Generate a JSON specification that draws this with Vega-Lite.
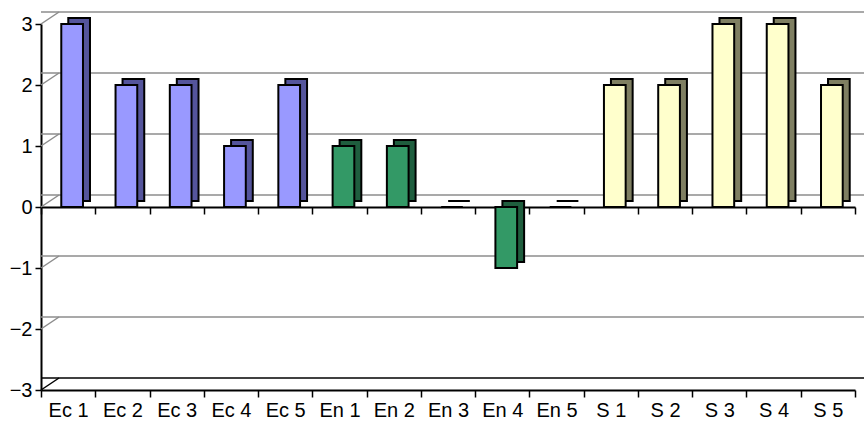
{
  "$schema": "https://vega.github.io/schema/vega-lite/v6.json",
  "width": 814,
  "height": 366,
  "autosize": {"type": "none"},
  "padding": {"left": 41, "top": 24, "right": 9, "bottom": 41},
  "background": "white",
  "config": {"view": {"stroke": null}, "font": "Liberation Sans"},
  "datasets": {
    "bars": [
      {"cat": "Ec 1", "group": "Ec", "v": 3},
      {"cat": "Ec 2", "group": "Ec", "v": 2},
      {"cat": "Ec 3", "group": "Ec", "v": 2},
      {"cat": "Ec 4", "group": "Ec", "v": 1},
      {"cat": "Ec 5", "group": "Ec", "v": 2},
      {"cat": "En 1", "group": "En", "v": 1},
      {"cat": "En 2", "group": "En", "v": 1},
      {"cat": "En 3", "group": "En", "v": 0},
      {"cat": "En 4", "group": "En", "v": -1},
      {"cat": "En 5", "group": "En", "v": 0},
      {"cat": "S 1", "group": "S", "v": 2},
      {"cat": "S 2", "group": "S", "v": 2},
      {"cat": "S 3", "group": "S", "v": 3},
      {"cat": "S 4", "group": "S", "v": 3},
      {"cat": "S 5", "group": "S", "v": 2}
    ],
    "grid": [{"v": -3}, {"v": -2}, {"v": -1}, {"v": 0}, {"v": 1}, {"v": 2}, {"v": 3}]
  },
  "resolve": {"scale": {"fill": "independent"}, "axis": {"x": "independent"}},
  "layer": [
    {
      "data": {"name": "grid"},
      "mark": {"type": "rule", "strokeWidth": 1.5, "xOffset": 18, "x2Offset": 9, "yOffset": -12},
      "encoding": {
        "y": {"field": "v", "type": "quantitative", "scale": {"domain": [-3, 3], "nice": false},
          "axis": {"title": null, "values": [-3, -2, -1, 0, 1, 2, 3], "grid": false, "labelFontSize": 20, "labelColor": "#000000", "labelPadding": 3, "tickSize": 6, "tickColor": "#000000", "tickWidth": 1.5, "domainColor": "#000000", "domainWidth": 2}},
        "color": {"condition": {"test": "datum.v === -3", "value": "#000000"}, "value": "#8c8c8c"}
      }
    },
    {
      "data": {"name": "grid"},
      "mark": {"type": "rule", "strokeWidth": 1.5, "xOffset": -27.13, "x2Offset": -9.13, "y2Offset": -12},
      "encoding": {
        "x": {"datum": "Ec 1", "type": "nominal", "scale": {"paddingInner": 0, "paddingOuter": 0}, "axis": null},
        "x2": {"datum": "Ec 1"},
        "y": {"field": "v", "type": "quantitative", "scale": {"domain": [-3, 3], "nice": false},
          "axis": {"title": null, "values": [-3, -2, -1, 0, 1, 2, 3], "grid": false, "labelFontSize": 20, "labelColor": "#000000", "labelPadding": 3, "tickSize": 6, "tickColor": "#000000", "tickWidth": 1.5, "domainColor": "#000000", "domainWidth": 2}},
        "y2": {"field": "v"},
        "color": {"condition": {"test": "datum.v === -3", "value": "#000000"}, "value": "#8c8c8c"}
      }
    },
    {
      "data": {"name": "bars"},
      "mark": {"type": "bar", "width": {"band": 0.4}, "stroke": "#000000", "strokeWidth": 2, "xOffset": 11, "x2Offset": 11, "yOffset": -6, "y2Offset": -6},
      "encoding": {
        "x": {"field": "cat", "type": "nominal", "sort": null, "scale": {"paddingInner": 0, "paddingOuter": 0},
          "axis": {"orient": "bottom", "offset": -183, "labels": false, "title": null, "tickBand": "extent", "tickSize": 7, "tickColor": "#000000", "tickWidth": 1.5, "domainColor": "#000000", "domainWidth": 2}},
        "y": {"field": "v", "type": "quantitative", "scale": {"domain": [-3, 3], "nice": false},
          "axis": {"title": null, "values": [-3, -2, -1, 0, 1, 2, 3], "grid": false, "labelFontSize": 20, "labelColor": "#000000", "labelPadding": 3, "tickSize": 6, "tickColor": "#000000", "tickWidth": 1.5, "domainColor": "#000000", "domainWidth": 2}},
        "fill": {"field": "group", "type": "nominal", "scale": {"domain": ["Ec", "En", "S"], "range": ["#55559c", "#1f5e3e", "#7f7f62"]}, "legend": null}
      }
    },
    {
      "data": {"name": "bars"},
      "mark": {"type": "bar", "width": {"band": 0.4}, "stroke": "#000000", "strokeWidth": 2, "xOffset": 4, "x2Offset": 4},
      "encoding": {
        "x": {"field": "cat", "type": "nominal", "sort": null, "scale": {"paddingInner": 0, "paddingOuter": 0},
          "axis": {"orient": "bottom", "title": null, "labelAngle": 0, "labelFontSize": 20, "labelColor": "#000000", "labelPadding": 3, "tickBand": "extent", "tickSize": 7, "tickColor": "#000000", "tickWidth": 1.5, "domainColor": "#000000", "domainWidth": 2}},
        "y": {"field": "v", "type": "quantitative", "scale": {"domain": [-3, 3], "nice": false},
          "axis": {"title": null, "values": [-3, -2, -1, 0, 1, 2, 3], "grid": false, "labelFontSize": 20, "labelColor": "#000000", "labelPadding": 3, "tickSize": 6, "tickColor": "#000000", "tickWidth": 1.5, "domainColor": "#000000", "domainWidth": 2}},
        "fill": {"field": "group", "type": "nominal", "scale": {"domain": ["Ec", "En", "S"], "range": ["#9999ff", "#339966", "#ffffcc"]}, "legend": null}
      }
    }
  ]
}
